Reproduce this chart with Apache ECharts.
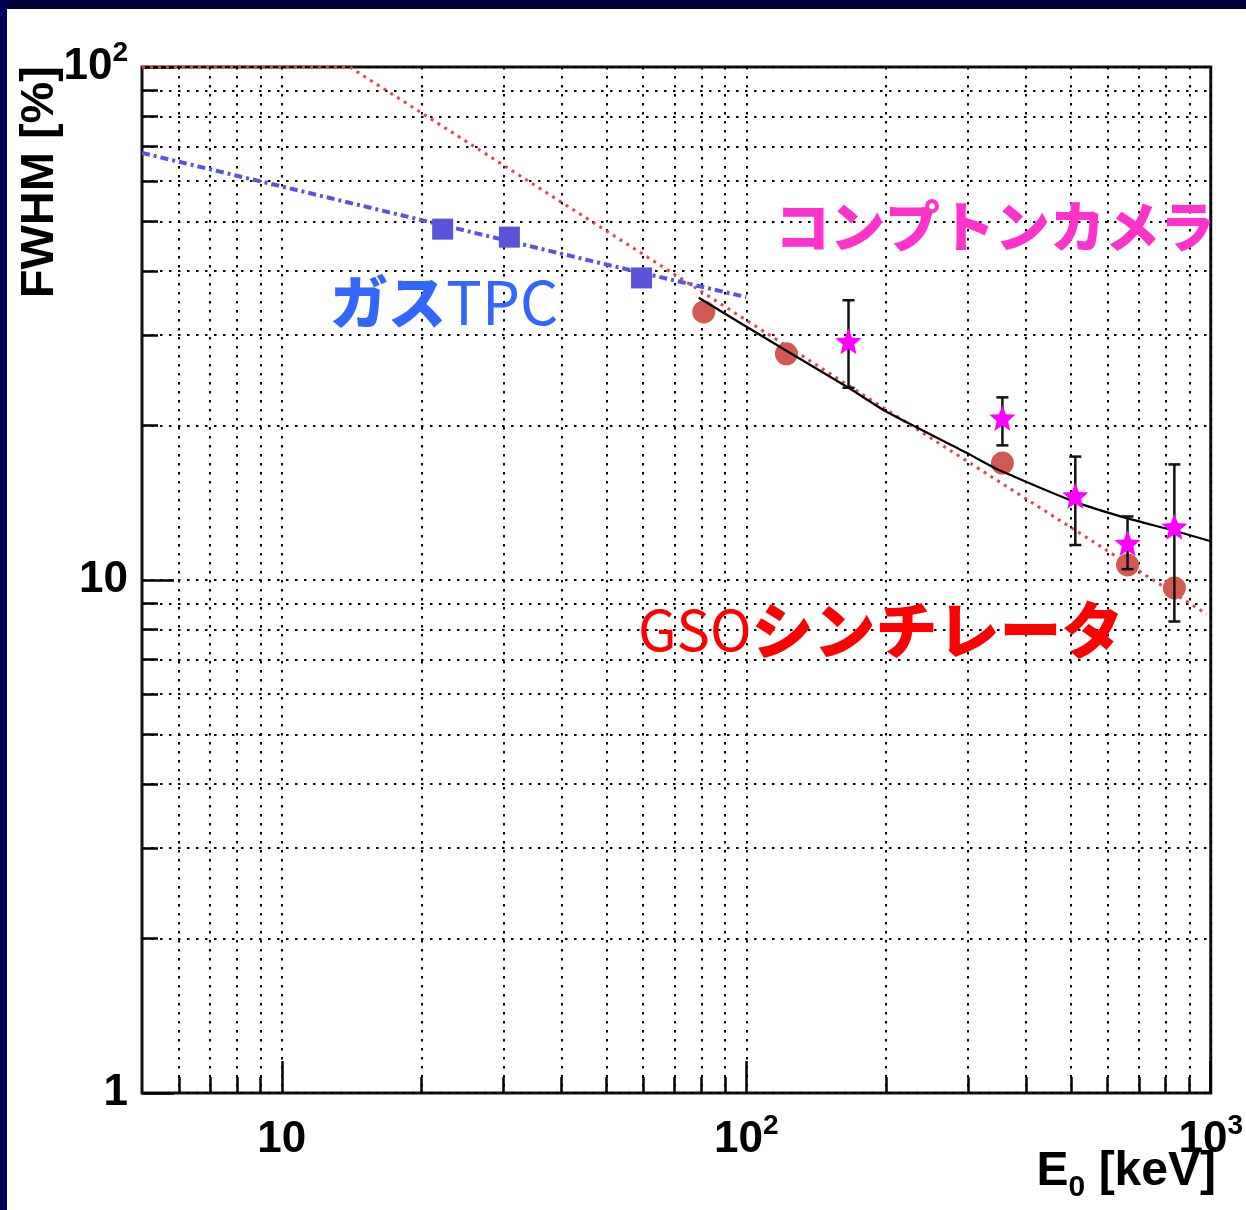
<!DOCTYPE html>
<html>
<head>
<meta charset="utf-8">
<script src="https://cdn.jsdelivr.net/npm/echarts@6/dist/echarts.min.js"></script>
<style>
html, body { margin: 0; padding: 0; background: #ffffff; }
#chart { width: 1246px; height: 1210px; }
</style>
</head>
<body>
<div id="chart"></div>
<script>
// Energy resolution (FWHM) versus gamma-ray energy for three detectors.

// Gas TPC measurements and power-law fit
const gasEnergy = [22.2, 30.9, 59.5];
const gasFwhm = [48.3, 46.6, 38.8];
const gasFitEnergy = [5, 10, 20, 50, 100];
const gasFitFwhm = [68, 58.5, 50.3, 41.2, 35.6];

// GSO scintillator measurements and fit
const gsoEnergy = [81, 122, 356, 662, 835];
const gsoFwhm = [33.3, 27.6, 16.9, 10.7, 9.65];
const gsoFitEnergy = [5, 14, 980];
const gsoFitFwhm = [100, 100, 8.58];

// Compton camera measurements (with error range) and combined fit
const comptonEnergy = [166, 356, 511, 662, 835];
const comptonFwhm = [29.2, 20.7, 14.6, 11.8, 12.7];
const comptonLow = [23.7, 18.3, 11.7, 10.5, 8.3];
const comptonHigh = [35.1, 22.7, 17.4, 13.3, 16.8];
const comptonFitEnergy = [79, 121, 166, 200, 298, 349, 510, 659, 828, 1000];
const comptonFitFwhm = [35.5, 28.1, 23.7, 21.3, 17.7, 16.4, 14.2, 13.2, 12.5, 11.9];

// Axis ticks and labels
const xMajorTicks = [10, 100, 1000];
const xMinorTicks = [6, 7, 8, 9, 20, 30, 40, 50, 60, 70, 80, 90, 200, 300, 400, 500, 600, 700, 800, 900];
const yMajorTicks = [1, 10, 100];
const yMinorTicks = [2, 3, 4, 5, 6, 7, 8, 9, 20, 30, 40, 50, 60, 70, 80, 90];
const xTickLabels = ['10', '10^2', '10^3'];
const yTickLabels = ['1', '10', '10^2'];

const LABEL_FONT = '"Liberation Sans", Arial, Helvetica, sans-serif';
const JP_FONT = '"Noto Sans CJK JP", "Noto Sans CJK SC", sans-serif';

function powerLabel(text) {
  const parts = text.split('^');
  return parts.length > 1 ? '{b|' + parts[0] + '}{s|' + parts[1] + '}' : '{b|' + parts[0] + '}';
}
function labelFor(ticks, labels) {
  return function (v) {
    for (let i = 0; i < ticks.length; i++) {
      if (Math.abs(Math.log10(v) - Math.log10(ticks[i])) < 1e-6) return powerLabel(labels[i]);
    }
    return '';
  };
}
const tickRich = {
  b: { fontFamily: LABEL_FONT, fontWeight: 'bold', fontSize: 44, lineHeight: 56, color: '#000' },
  s: { fontFamily: LABEL_FONT, fontWeight: 'bold', fontSize: 28, lineHeight: 56, verticalAlign: 'top', color: '#000' }
};
const gridDots = { show: true, lineStyle: { color: '#000', width: 2, type: [2.5, 6.5] } };

const chart = echarts.init(document.getElementById('chart'), null, { renderer: 'canvas' });

const option = {
  backgroundColor: '#ffffff',
  animation: false,
  grid: { left: 142, top: 67, width: 1072, height: 1026, show: true, borderColor: '#111', borderWidth: 3, backgroundColor: '#ffffff' },
  xAxis: [
    {
      type: 'log', logBase: 10, min: 5, max: 1000, position: 'bottom',
      axisLine: { show: false },
      axisTick: { show: true, inside: true, length: 32, customValues: xMajorTicks, lineStyle: { color: '#000', width: 2.5 } },
      axisLabel: { show: true, customValues: xMajorTicks, margin: 19, formatter: labelFor(xMajorTicks, xTickLabels), rich: tickRich },
      splitLine: gridDots
    },
    {
      type: 'log', logBase: 10, min: 5, max: 1000, position: 'bottom',
      axisLine: { show: false },
      axisTick: { show: true, inside: true, length: 16, customValues: xMinorTicks, lineStyle: { color: '#000', width: 2.5 } },
      axisLabel: { show: false },
      splitLine: gridDots
    }
  ],
  yAxis: [
    {
      type: 'log', logBase: 10, min: 1, max: 100, position: 'left',
      axisLine: { show: false },
      axisTick: { show: true, inside: true, length: 32, customValues: yMajorTicks, lineStyle: { color: '#000', width: 2.5 } },
      axisLabel: { show: true, customValues: yMajorTicks, margin: 14, formatter: labelFor(yMajorTicks, yTickLabels), rich: tickRich },
      splitLine: gridDots
    },
    {
      type: 'log', logBase: 10, min: 1, max: 100, position: 'left',
      axisLine: { show: false },
      axisTick: { show: true, inside: true, length: 16, customValues: yMinorTicks, lineStyle: { color: '#000', width: 2.5 } },
      axisLabel: { show: false },
      splitLine: gridDots
    }
  ],
  series: [
    {
      name: 'GSO fit', type: 'line', clip: false, symbol: 'none', z: 3,
      data: gsoFitEnergy.map((e, i) => [e, gsoFitFwhm[i]]),
      lineStyle: { color: '#dd4a44', width: 3, type: [3, 5] }
    },
    {
      name: 'Gas TPC fit', type: 'line', symbol: 'none', z: 3,
      data: gasFitEnergy.map((e, i) => [e, gasFitFwhm[i]]),
      lineStyle: { color: '#5555dd', width: 4, type: [8, 4, 3, 4] }
    },
    {
      name: 'Gas TPC', type: 'scatter', symbol: 'rect', symbolSize: 21, z: 4,
      data: gasEnergy.map((e, i) => [e, gasFwhm[i]]),
      itemStyle: { color: '#5a52d8', opacity: 1 }
    },
    {
      name: 'GSO', type: 'scatter', symbol: 'circle', symbolSize: 23, z: 4,
      data: gsoEnergy.map((e, i) => [e, gsoFwhm[i]]),
      itemStyle: { color: '#d25a52', opacity: 1 }
    },
    {
      name: 'Compton fit', type: 'line', symbol: 'none', smooth: 0.2, z: 5,
      data: comptonFitEnergy.map((e, i) => [e, comptonFitFwhm[i]]),
      lineStyle: { color: '#000', width: 2.2 }
    },
    {
      name: 'Compton error', type: 'custom', z: 6,
      data: comptonEnergy.map((e, i) => [e, comptonLow[i], comptonHigh[i]]),
      encode: { x: 0, y: [1, 2] },
      renderItem: function (params, api) {
        const x = api.value(0);
        const lo = api.coord([x, api.value(1)]);
        const hi = api.coord([x, api.value(2)]);
        const cap = 6;
        const st = { stroke: '#111', lineWidth: 2.5 };
        return {
          type: 'group',
          children: [
            { type: 'line', shape: { x1: lo[0], y1: lo[1], x2: hi[0], y2: hi[1] }, style: st },
            { type: 'line', shape: { x1: hi[0] - cap, y1: hi[1], x2: hi[0] + cap, y2: hi[1] }, style: st },
            { type: 'line', shape: { x1: lo[0] - cap, y1: lo[1], x2: lo[0] + cap, y2: lo[1] }, style: st }
          ]
        };
      }
    },
    {
      name: 'Compton camera', type: 'scatter', z: 7, symbolSize: 26,
      symbol: 'path://M50 0 L62.9 32.2 L97.55 34.55 L70.9 56.8 L79.39 90.45 L50 72 L20.61 90.45 L29.1 56.8 L2.45 34.55 L37.1 32.2 Z',
      data: comptonEnergy.map((e, i) => [e, comptonFwhm[i]]),
      itemStyle: { color: '#ff00ff', opacity: 1 }
    }
  ],
  graphic: [
    // dark slide frame along the top and left edges
    { type: 'rect', silent: true, z: 100, shape: { x: 0, y: 0, width: 1246, height: 9 }, style: { fill: '#000038' } },
    { type: 'rect', silent: true, z: 100, shape: { x: 0, y: 0, width: 7, height: 1210 }, style: { fill: '#00005a' } },
    // axis titles
    {
      type: 'text', z: 50, x: 40, y: 66, rotation: Math.PI / 2,
      style: { text: 'FWHM [%]', font: 'bold 47px ' + LABEL_FONT, fill: '#000', align: 'right', verticalAlign: 'middle' }
    },
    {
      type: 'text', z: 50, x: 1216, y: 1172,
      style: {
        text: '{e|E}{sub|0}{e| [keV]}', align: 'right', verticalAlign: 'middle',
        rich: {
          e: { font: 'bold 48px ' + LABEL_FONT, fill: '#000', lineHeight: 62 },
          sub: { font: 'bold 30px ' + LABEL_FONT, fill: '#000', lineHeight: 62, verticalAlign: 'bottom' }
        }
      }
    },
    // detector annotations
    {
      type: 'text', z: 60, x: 330, y: 302,
      style: {
        text: '{k|ガス}{l|TPC}', align: 'left', verticalAlign: 'middle',
        rich: {
          k: { font: '900 58px ' + JP_FONT, fill: '#3366ff' },
          l: { font: 'normal 60px ' + JP_FONT, fill: '#3366ff' }
        }
      }
    },
    {
      type: 'text', z: 60, x: 775, y: 226,
      style: { text: 'コンプトンカメラ', font: '900 55px ' + JP_FONT, fill: '#ff33cc', align: 'left', verticalAlign: 'middle' }
    },
    {
      type: 'text', z: 60, x: 638, y: 630,
      style: {
        text: '{l|GSO}{k|シンチレータ}', align: 'left', verticalAlign: 'middle',
        rich: {
          l: { font: 'normal 56px ' + JP_FONT, fill: '#ff0000' },
          k: { font: '900 62px ' + JP_FONT, fill: '#ff0000' }
        }
      }
    }
  ]
};

chart.setOption(option);
</script>
</body>
</html>
